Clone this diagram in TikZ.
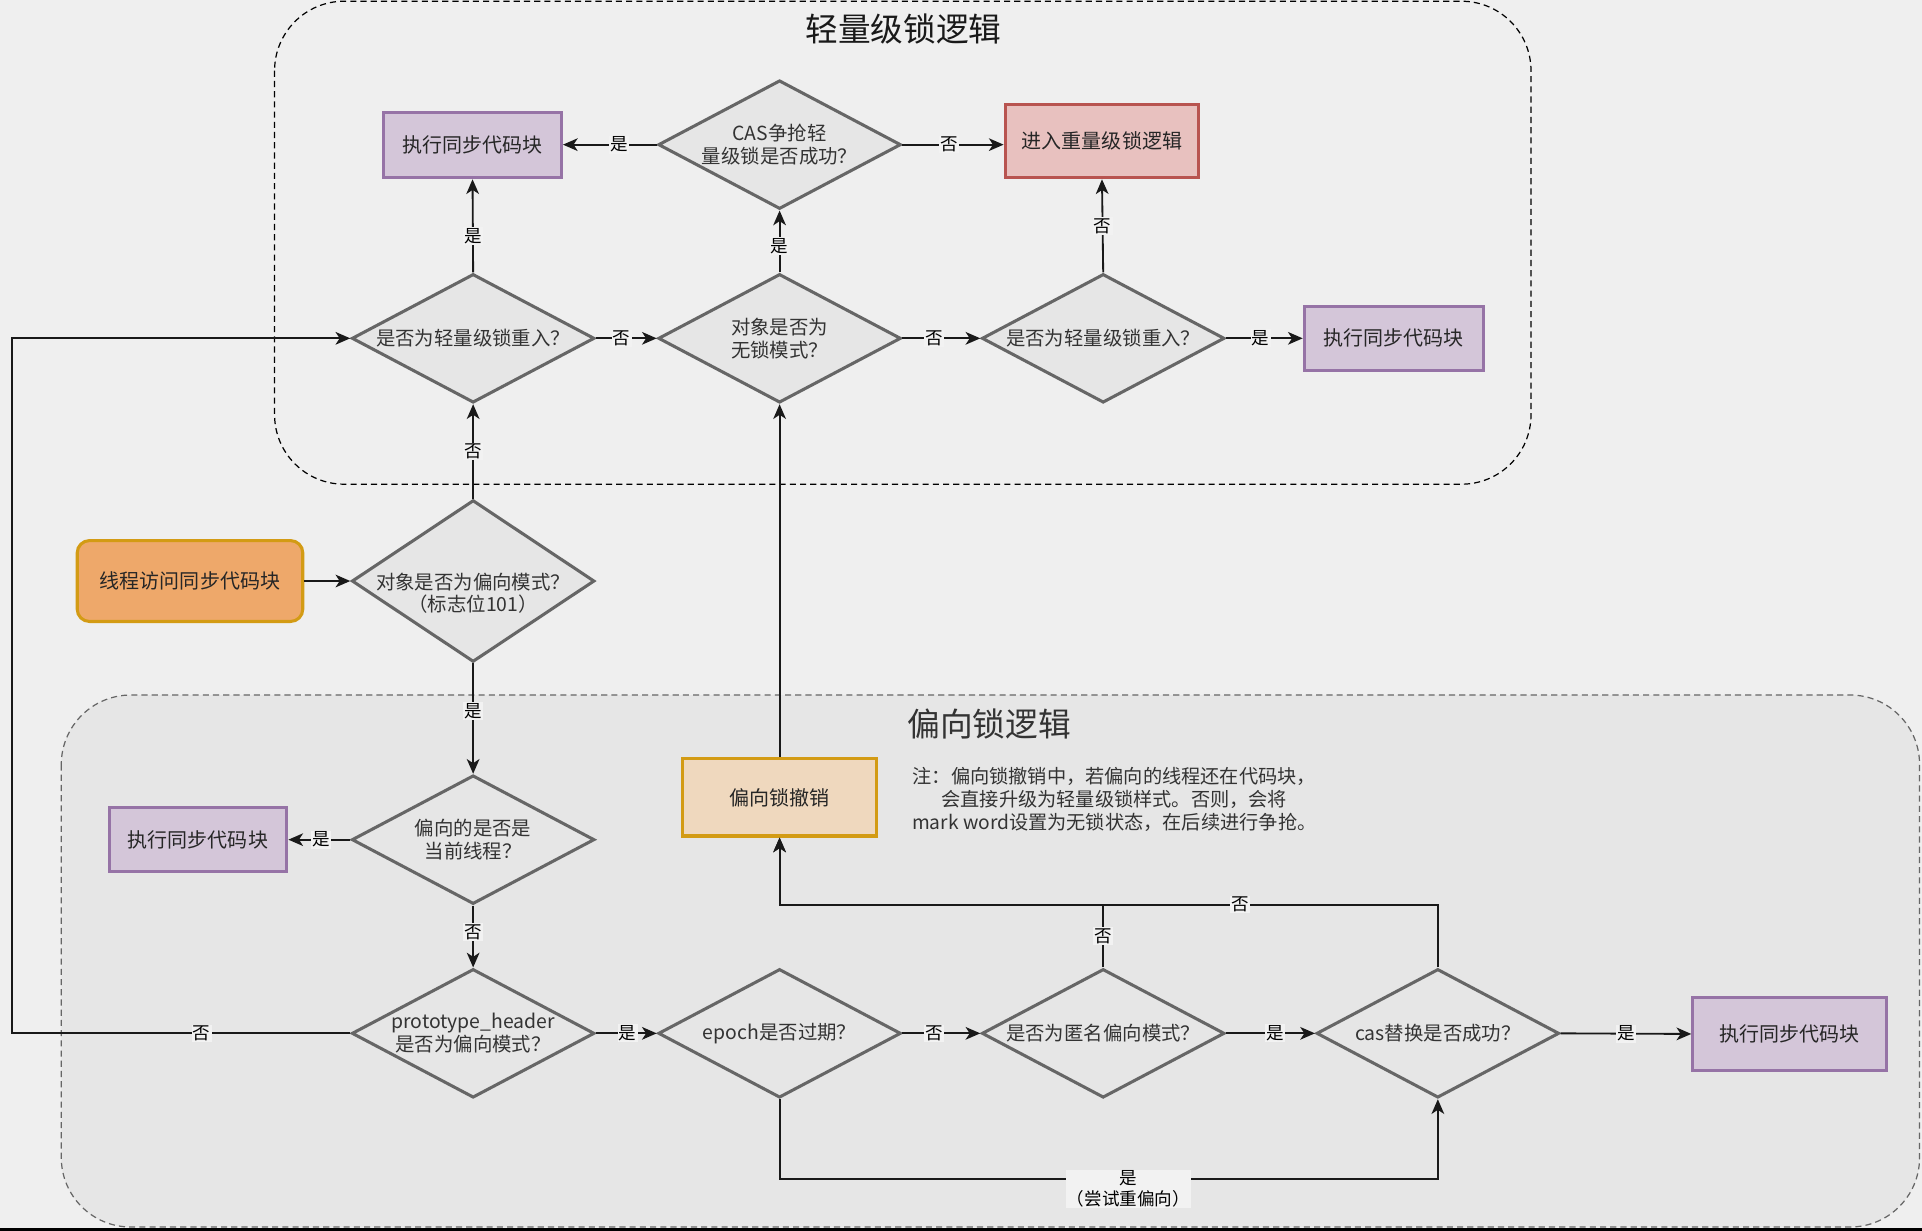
\documentclass[tikz,border=0pt]{standalone}
\usepackage{fontspec}
\setmainfont{Noto Sans CJK SC}
\usetikzlibrary{shapes.geometric,arrows.meta,calc}
\definecolor{pagebg}{HTML}{EFEFEF}
\definecolor{grpbg}{HTML}{E6E6E6}
\definecolor{lblbg}{HTML}{F2F2F2}
\definecolor{dfill}{HTML}{E6E6E6}
\definecolor{dline}{HTML}{666666}
\definecolor{ptext}{HTML}{333333}
\definecolor{purfill}{HTML}{D4C6D9}
\definecolor{purline}{HTML}{9673A6}
\definecolor{redfill}{HTML}{E8C1BF}
\definecolor{redline}{HTML}{B85450}
\definecolor{orfill}{HTML}{EEA86A}
\definecolor{orline}{HTML}{D39B14}
\definecolor{pchfill}{HTML}{EFD8BE}
\begin{document}
\begin{tikzpicture}[x=0.6pt,y=-0.6pt,
  dia/.style={diamond,draw=dline,fill=dfill,line width=1.5pt,minimum width=118.8pt,minimum height=63pt,inner sep=0pt},
  dtext/.style={align=center,text=ptext,font=\fontsize{9.5}{11.2}\selectfont,inner sep=0pt},
  box/.style={rectangle,line width=1.5pt,font=\fontsize{9.8}{11}\selectfont,text=black!85,inner sep=0pt},
  pbox/.style={box,draw=purline,fill=purfill},
  conn/.style={draw=black!90,line width=0.9pt,-{Stealth[length=7.2pt,width=6.2pt,inset=2pt]}},
  lbl/.style={fill=lblbg,inner sep=0.6pt,font=\fontsize{8.6}{10}\selectfont,text=black}
]
% background
\fill[pagebg] (0,0) rectangle (1568,1004);
\useasboundingbox (0,0) rectangle (1568,1004);
\draw[black,line width=1.2pt] (0,1003) -- (1568,1003);

% groups
\draw[dline,fill=grpbg,line width=0.6pt,dash pattern=on 3pt off 2pt,rounded corners=34pt] (50,567) rectangle (1566,1001);
\draw[black,line width=0.6pt,dash pattern=on 3pt off 2pt,rounded corners=34pt] (224,1) rectangle (1249,395);
\node[font=\fontsize{16}{18}\selectfont,text=black!90] (t1) at (737,24) {轻量级锁逻辑};
\node[font=\fontsize{16}{18}\selectfont,text=ptext] (t2) at (807,591) {偏向锁逻辑};

% diamonds
\node[dia] (d2) at (386,276) {};
\node[dtext] (d2t) at (d2) {是否为轻量级锁重入？};
\node[dia] (d3) at (636,276) {};
\node[dtext] (d3t) at (d3) {对象是否为\\无锁模式？};
\node[dia] (d4) at (900,276) {};
\node[dtext] (d4t) at (d4) {是否为轻量级锁重入？};
\node[dia] (d5) at (636,118) {};
\node[dtext] (d5t) at (d5) {CAS争抢轻\\量级锁是否成功？};
\node[dia,minimum height=79.2pt] (d1) at (386,474) {};
\node[dtext] (d1t) at (386,484) {对象是否为偏向模式？\\（标志位101）};
\node[dia] (d6) at (386,685) {};
\node[dtext] (d6t) at (d6) {偏向的是否是\\当前线程？};
\node[dia] (d7) at (386,843) {};
\node[dtext] (d7t) at (d7) {prototype\_header\\是否为偏向模式？};
\node[dia] (d8) at (636,843) {};
\node[dtext] (d8t) at (d8) {epoch是否过期？};
\node[dia] (d9) at (900,843) {};
\node[dtext] (d9t) at (d9) {是否为匿名偏向模式？};
\node[dia] (d10) at (1173,843) {};
\node[dtext] (d10t) at (d10) {cas替换是否成功？};

% boxes
\node[pbox,minimum width=87pt,minimum height=31.8pt] (e2) at (385.5,118.5) {执行同步代码块};
\node[box,draw=redline,fill=redfill,minimum width=94.8pt,minimum height=36pt] (h) at (899,115) {进入重量级锁逻辑};
\node[pbox,minimum width=87.6pt,minimum height=31.2pt] (e1) at (1137,276) {执行同步代码块};
\node[box,draw=orline,fill=orfill,rounded corners=6pt,minimum width=110.4pt,minimum height=39.6pt] (a) at (155,474) {线程访问同步代码块};
\node[pbox,minimum width=87pt,minimum height=31.2pt] (e3) at (161.5,685) {执行同步代码块};
\node[box,draw=orline,fill=pchfill,minimum width=94.8pt,minimum height=37.8pt] (r) at (636,650.5) {偏向锁撤销};
\node[pbox,minimum width=94.8pt,minimum height=35.4pt] (e4) at (1460,843.5) {执行同步代码块};

% note
\node[align=center,text=ptext,font=\fontsize{9.4}{11.4}\selectfont] (note) at (909,652) {注：偏向锁撤销中，若偏向的线程还在代码块，\\会直接升级为轻量级锁样式。否则，会将\\mark word设置为无锁状态，在后续进行争抢。};

% connectors
\draw[conn] (a.east) -- (d1.west);
\draw[conn] (d1.north) -- node[lbl,pos=0.5]{否} (d2.south);
\draw[conn] (d2.north) -- node[lbl,pos=0.39]{是} (e2.south);
\draw[conn] (d2.east) -- node[lbl,pos=0.42]{否} (d3.west);
\draw[conn] (d3.north) -- node[lbl,pos=0.43]{是} (d5.south);
\draw[conn] (d5.west) -- node[lbl,pos=0.4]{是} (d5.west -| e2.east);
\draw[conn] (d5.east) -- node[lbl,pos=0.46]{否} (d5.east -| h.west);
\draw[conn] (d3.east) -- node[lbl,pos=0.41]{否} (d4.west);
\draw[conn] (d4.north) -- node[lbl,pos=0.5]{否} (h.south);
\draw[conn] (d4.east) -- node[lbl,pos=0.45]{是} (e1.west);
\draw[conn] (d1.south) -- node[lbl,pos=0.43]{是} (d6.north);
\draw[conn] (d6.west) -- node[lbl,pos=0.47]{是} (e3.east);
\draw[conn] (d6.south) -- node[lbl,pos=0.43]{否} (d7.north);
\coordinate (lp) at (10,843);
\draw[conn] (d7.west) -- node[lbl,pos=0.44]{否} (lp) |- (d2.west);
\draw[conn] (d7.east) -- node[lbl,pos=0.52]{是} (d8.west);
\draw[conn] (d8.east) -- node[lbl,pos=0.41]{否} (d9.west);
\draw[conn] (d9.east) -- node[lbl,pos=0.55]{是} (d10.west);
\draw[conn] (d10.east) -- node[lbl,pos=0.5]{是} (e4.west);
\coordinate (bp) at (636,962);
\draw[conn] (d8.south) -- (bp) -- node[lbl,pos=0.53,yshift=-4.8pt,align=center]{是\\（尝试重偏向）} (bp -| d10.south) -- (d10.south);
\coordinate (np) at (900,738);
\draw[conn] (d9.north) -- node[lbl,pos=0.5]{否} (np) -| (r.south);
\coordinate (mp) at (1173,738);
\draw[conn] (d10.north) -- (mp) -- node[lbl,pos=0.3]{否} (mp -| r.south) -- (r.south);
\draw[conn] (r.north) -- (d3.south);
\end{tikzpicture}
\end{document}
